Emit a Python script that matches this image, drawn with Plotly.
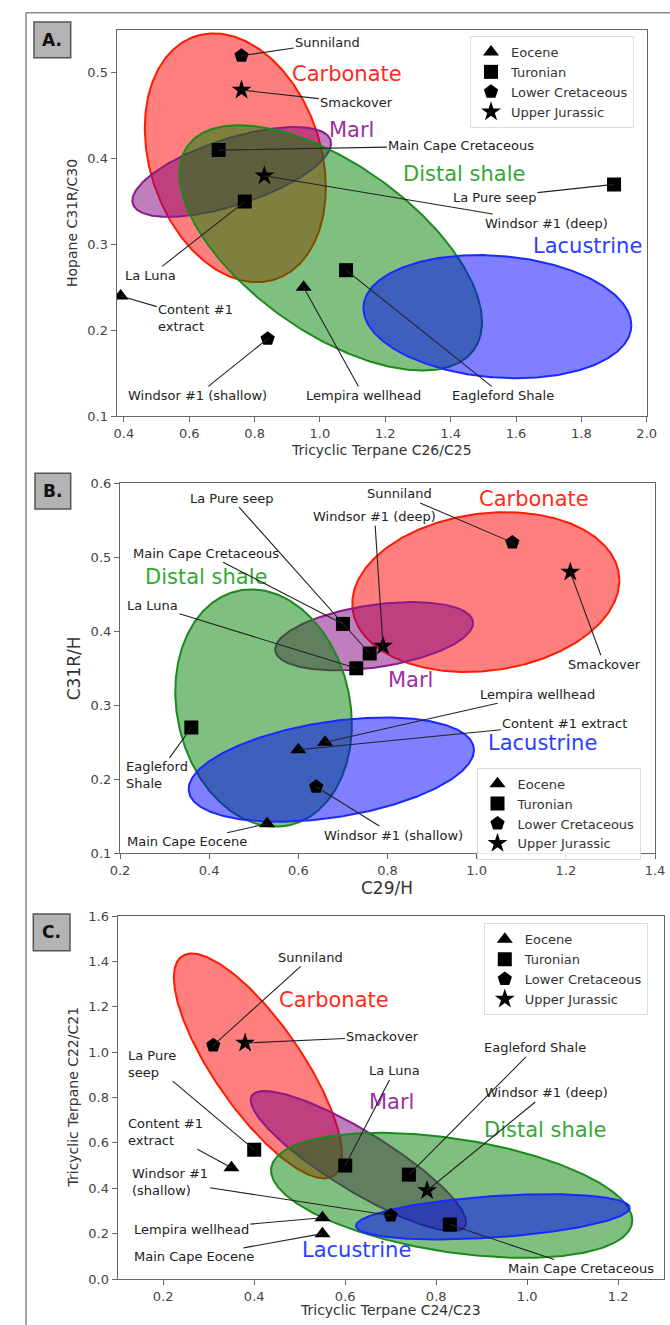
import numpy as np
import plotly.graph_objects as go

W, H = 670, 1325
FONT = "DejaVu Sans"

groups = ["Eocene", "Turonian", "Lower Cretaceous", "Upper Jurassic"]
group_symbols = ["triangle-up", "square", "pentagon", "star"]
group_sizes = [14, 14, 15, 15]

# ---------------- Panel A ----------------
A_names = ["Content #1 extract", "Lempira wellhead", "Main Cape Cretaceous", "La Luna",
           "Eagleford Shale", "La Pure seep", "Sunniland", "Windsor #1 (shallow)",
           "Smackover", "Windsor #1 (deep)"]
A_group = ["Eocene", "Eocene", "Turonian", "Turonian", "Turonian", "Turonian",
           "Lower Cretaceous", "Lower Cretaceous", "Upper Jurassic", "Upper Jurassic"]
A_x = [0.39, 0.95, 0.69, 0.77, 1.08, 1.90, 0.76, 0.84, 0.76, 0.83]
A_y = [0.24, 0.25, 0.41, 0.35, 0.27, 0.37, 0.52, 0.19, 0.48, 0.38]
A_label_text = ["Content #1<br>extract", "Lempira wellhead", "Main Cape Cretaceous", "La Luna",
                "Eagleford Shale", "La Pure seep", "Sunniland", "Windsor #1 (shallow)",
                "Smackover", "Windsor #1 (deep)"]
A_label_x = [0.62, 1.133, 1.433, 0.482, 1.56, 1.534, 1.024, 0.624, 1.113, 1.694]
A_label_y = [0.214, 0.124, 0.415, 0.264, 0.124, 0.355, 0.535, 0.124, 0.465, 0.325]

# ---------------- Panel B ----------------
B_names = ["Content #1 extract", "Lempira wellhead", "Main Cape Eocene", "Main Cape Cretaceous",
           "La Pure seep", "La Luna", "Eagleford Shale", "Sunniland", "Windsor #1 (shallow)",
           "Windsor #1 (deep)", "Smackover"]
B_group = ["Eocene", "Eocene", "Eocene", "Turonian", "Turonian", "Turonian", "Turonian",
           "Lower Cretaceous", "Lower Cretaceous", "Upper Jurassic", "Upper Jurassic"]
B_x = [0.60, 0.66, 0.53, 0.70, 0.76, 0.73, 0.36, 1.08, 0.64, 0.79, 1.21]
B_y = [0.24, 0.25, 0.14, 0.41, 0.37, 0.35, 0.27, 0.52, 0.19, 0.38, 0.48]
B_label_text = ["Content #1 extract", "Lempira wellhead", "Main Cape Eocene", "Main Cape Cretaceous",
                "La Pure seep", "La Luna", "Eagleford<br>Shale", "Sunniland", "Windsor #1 (shallow)",
                "Windsor #1 (deep)", "Smackover"]
B_label_x = [1.198, 1.136, 0.35, 0.392, 0.449, 0.273, 0.283, 0.826, 0.814, 0.771, 1.286]
B_label_y = [0.2754, 0.315, 0.1157, 0.5056, 0.580, 0.435, 0.2053, 0.5856, 0.1247, 0.555, 0.3554]

# ---------------- Panel C ----------------
C_names = ["Content #1 extract", "Lempira wellhead", "Main Cape Eocene", "La Pure seep",
           "La Luna", "Eagleford Shale", "Main Cape Cretaceous", "Sunniland",
           "Windsor #1 (shallow)", "Smackover", "Windsor #1 (deep)"]
C_group = ["Eocene", "Eocene", "Eocene", "Turonian", "Turonian", "Turonian", "Turonian",
           "Lower Cretaceous", "Lower Cretaceous", "Upper Jurassic", "Upper Jurassic"]
C_x = [0.35, 0.55, 0.55, 0.40, 0.60, 0.74, 0.83, 0.31, 0.70, 0.38, 0.78]
C_y = [0.49, 0.27, 0.20, 0.57, 0.50, 0.46, 0.24, 1.03, 0.28, 1.04, 0.39]
C_label_text = ["Content #1<br>extract", "Lempira wellhead", "Main Cape Eocene", "La Pure<br>seep",
                "La Luna", "Eagleford Shale", "Main Cape Cretaceous", "Sunniland",
                "Windsor #1<br>(shallow)", "Smackover", "Windsor #1 (deep)"]
C_label_x = [0.2047, 0.262, 0.267, 0.175, 0.7075, 1.017, 1.118, 0.524, 0.216, 0.683, 1.042]
C_label_y = [0.649, 0.219, 0.0976, 0.949, 0.917, 1.019, 0.0459, 1.418, 0.4285, 1.068, 0.82]

# ---------------- Facies ellipses: centre, half-extent x/y, tilt (cos phi) ----------------
facies = ["Carbonate", "Marl", "Distal shale", "Lacustrine"]
facies_fill = ["rgba(255,0,0,0.5)", "rgba(128,0,128,0.5)", "rgba(0,128,0,0.5)", "rgba(0,0,255,0.5)"]
facies_line = ["#ff1a00", "#8b1a8b", "#1a8a1a", "#1a2aff"]
facies_text = ["#ff2a1a", "#9b30a0", "#33a833", "#2a40ff"]

A_ell_cx = [0.741, 0.730, 1.033, 1.543]
A_ell_cy = [0.401, 0.3845, 0.296, 0.2158]
A_ell_hx = [0.277, 0.304, 0.463, 0.410]
A_ell_hy = [0.145, 0.0524, 0.143, 0.0718]
A_ell_c = [-0.238, 0.635, -0.605, -0.139]
A_fl_x = [1.083, 1.096, 1.441, 1.819]
A_fl_y = [0.4984, 0.434, 0.3827, 0.298]

B_ell_cx = [1.0205, 0.770, 0.522, 0.674]
B_ell_cy = [0.453, 0.3934, 0.2963, 0.2131]
B_ell_hx = [0.2995, 0.222, 0.198, 0.320]
B_ell_hy = [0.108, 0.0461, 0.1603, 0.0704]
B_ell_c = [0.146, 0.385, -0.138, 0.374]
B_fl_x = [1.128, 0.852, 0.392, 1.1475]
B_fl_y = [0.5789, 0.3347, 0.4732, 0.2484]

C_ell_cx = [0.408, 0.629, 0.834, 0.9246]
C_ell_cy = [0.939, 0.520, 0.3687, 0.274]
C_ell_hx = [0.1846, 0.2368, 0.397, 0.3009]
C_ell_hy = [0.4956, 0.3088, 0.2755, 0.0997]
C_ell_c = [-0.786, -0.87, -0.40, 0.40]
C_fl_x = [0.575, 0.702, 1.039, 0.625]
C_fl_y = [1.228, 0.78, 0.655, 0.13]

panels = [
    dict(letter="A.", xa="x", ya="y", legend="legend",
         names=A_names, group=A_group, x=A_x, y=A_y,
         lt=A_label_text, lx=A_label_x, ly=A_label_y,
         ecx=A_ell_cx, ecy=A_ell_cy, ehx=A_ell_hx, ehy=A_ell_hy, ec=A_ell_c,
         flx=A_fl_x, fly=A_fl_y,
         xtitle="Tricyclic Terpane C26/C25", ytitle="Hopane C31R/C30", tsize=14,
         xdom=[116.7, 646.7], ydom=[30, 416], xr=[0.378, 2.0], yr=[0.1, 0.55],
         xt0=0.4, xdt=0.2, yt0=0.1, ydt=0.1,
         xtitle_y=450, ytitle_x=72, box=[34, 22, 70.7, 57.7],
         leg=[470, 36]),
    dict(letter="B.", xa="x2", ya="y2", legend="legend2",
         names=B_names, group=B_group, x=B_x, y=B_y,
         lt=B_label_text, lx=B_label_x, ly=B_label_y,
         ecx=B_ell_cx, ecy=B_ell_cy, ehx=B_ell_hx, ehy=B_ell_hy, ec=B_ell_c,
         flx=B_fl_x, fly=B_fl_y,
         xtitle="C29/H", ytitle="C31R/H", tsize=17,
         xdom=[120, 655], ydom=[483.3, 853.3], xr=[0.2, 1.4], yr=[0.1, 0.6],
         xt0=0.2, xdt=0.2, yt0=0.1, ydt=0.1,
         xtitle_y=887.5, ytitle_x=74, box=[35, 473.3, 70.7, 509],
         leg=[476.5, 767.7]),
    dict(letter="C.", xa="x3", ya="y3", legend="legend3",
         names=C_names, group=C_group, x=C_x, y=C_y,
         lt=C_label_text, lx=C_label_x, ly=C_label_y,
         ecx=C_ell_cx, ecy=C_ell_cy, ehx=C_ell_hx, ehy=C_ell_hy, ec=C_ell_c,
         flx=C_fl_x, fly=C_fl_y,
         xtitle="Tricyclic Terpane C24/C23", ytitle="Tricyclic Terpane C22/C21", tsize=14,
         xdom=[117.7, 663.7], ydom=[916, 1279], xr=[0.1, 1.3], yr=[0.0, 1.6],
         xt0=0.2, xdt=0.2, yt0=0.0, ydt=0.2,
         xtitle_y=1309.5, ytitle_x=72, box=[33.3, 914, 70, 950.7],
         leg=[483.8, 923.3]),
]

fig = go.Figure()
annotations = []
shapes = []

def px(v):
    return v / W

def py(v):
    return 1 - v / H

t = np.linspace(0, 2 * np.pi, 361)

for i, p in enumerate(panels):
    # ellipses
    for k in range(len(facies)):
        phi = np.arccos(p["ec"][k])
        ex = p["ecx"][k] + p["ehx"][k] * np.cos(t)
        ey = p["ecy"][k] + p["ehy"][k] * np.cos(t - phi)
        fig.add_trace(go.Scatter(x=ex, y=ey, mode="lines", fill="toself",
                                 fillcolor=facies_fill[k],
                                 line=dict(color=facies_line[k], width=2),
                                 xaxis=p["xa"], yaxis=p["ya"], showlegend=False,
                                 hoverinfo="skip"))
        annotations.append(dict(x=p["flx"][k], y=p["fly"][k], xref=p["xa"], yref=p["ya"],
                                text=facies[k], showarrow=False,
                                font=dict(family=FONT, size=21, color=facies_text[k])))
    # markers by group
    for g, sym, sz in zip(groups, group_symbols, group_sizes):
        gx = [xv for xv, gg in zip(p["x"], p["group"]) if gg == g]
        gy = [yv for yv, gg in zip(p["y"], p["group"]) if gg == g]
        fig.add_trace(go.Scatter(x=gx, y=gy, mode="markers", name=g,
                                 marker=dict(symbol=sym, size=sz, color="black",
                                             line=dict(width=0)),
                                 xaxis=p["xa"], yaxis=p["ya"], legend=p["legend"]))
    # sample labels with leader lines
    for j in range(len(p["names"])):
        annotations.append(dict(x=p["x"][j], y=p["y"][j], xref=p["xa"], yref=p["ya"],
                                ax=p["lx"][j], ay=p["ly"][j], axref=p["xa"], ayref=p["ya"],
                                text=p["lt"][j], showarrow=True, arrowhead=0,
                                arrowwidth=1.1, arrowcolor="#222", standoff=0,
                                align="left",
                                font=dict(family=FONT, size=13, color="#222")))
    # axis titles
    xc = (p["xdom"][0] + p["xdom"][1]) / 2
    yc = (p["ydom"][0] + p["ydom"][1]) / 2
    annotations.append(dict(x=px(xc), y=py(p["xtitle_y"]), xref="paper", yref="paper",
                            text=p["xtitle"], showarrow=False, xanchor="center", yanchor="middle",
                            font=dict(family=FONT, size=p["tsize"], color="#333")))
    annotations.append(dict(x=px(p["ytitle_x"]), y=py(yc), xref="paper", yref="paper",
                            text=p["ytitle"], showarrow=False, textangle=-90,
                            xanchor="center", yanchor="middle",
                            font=dict(family=FONT, size=p["tsize"], color="#333")))
    # panel letter box
    b = p["box"]
    shapes.append(dict(type="rect", xref="paper", yref="paper",
                       x0=px(b[0]), x1=px(b[2]), y0=py(b[3]), y1=py(b[1]),
                       fillcolor="#b3b3b3", line=dict(color="#555", width=1.5), layer="above"))
    annotations.append(dict(x=px((b[0] + b[2]) / 2), y=py((b[1] + b[3]) / 2),
                            xref="paper", yref="paper", text="<b>" + p["letter"] + "</b>",
                            showarrow=False, xanchor="center", yanchor="middle",
                            font=dict(family=FONT, size=17, color="#111")))
    # axes
    sfx = "" if i == 0 else str(i + 1)
    axstyle = dict(showline=True, mirror=True, linecolor="#666", linewidth=1.2,
                   ticks="outside", ticklen=5, tickcolor="#666", tickwidth=1.2,
                   showgrid=False, zeroline=False, tickformat=".1f", automargin=False,
                   tickfont=dict(family=FONT, size=13, color="#444"))
    fig.update_layout(**{
        "xaxis" + sfx: dict(domain=[px(p["xdom"][0]), px(p["xdom"][1])], range=p["xr"],
                            tick0=p["xt0"], dtick=p["xdt"], anchor="y" + sfx, **axstyle),
        "yaxis" + sfx: dict(domain=[py(p["ydom"][1]), py(p["ydom"][0])], range=p["yr"],
                            tick0=p["yt0"], dtick=p["ydt"], anchor="x" + sfx, **axstyle),
        p["legend"]: dict(x=px(p["leg"][0]), y=py(p["leg"][1]), xanchor="left", yanchor="top",
                          bgcolor="rgba(255,255,255,0.85)", bordercolor="#dddddd",
                          borderwidth=1, font=dict(family=FONT, size=13, color="#333"),
                          itemsizing="trace"),
    })

# outer frame (top and left)
shapes.append(dict(type="line", xref="paper", yref="paper",
                   x0=px(26), x1=px(26), y0=0, y1=py(12.7), line=dict(color="#888", width=1.5)))
shapes.append(dict(type="line", xref="paper", yref="paper",
                   x0=px(26), x1=1, y0=py(12.7), y1=py(12.7), line=dict(color="#888", width=1.5)))

fig.update_layout(width=W, height=H, margin=dict(l=0, r=0, t=0, b=0, autoexpand=False),
                  paper_bgcolor="white", plot_bgcolor="white",
                  font=dict(family=FONT, color="#333"),
                  annotations=annotations, shapes=shapes, showlegend=True)

fig.write_html("out.html", config={"displayModeBar": False},
               post_script="document.body.style.margin='0px';document.body.style.overflow='hidden';")
